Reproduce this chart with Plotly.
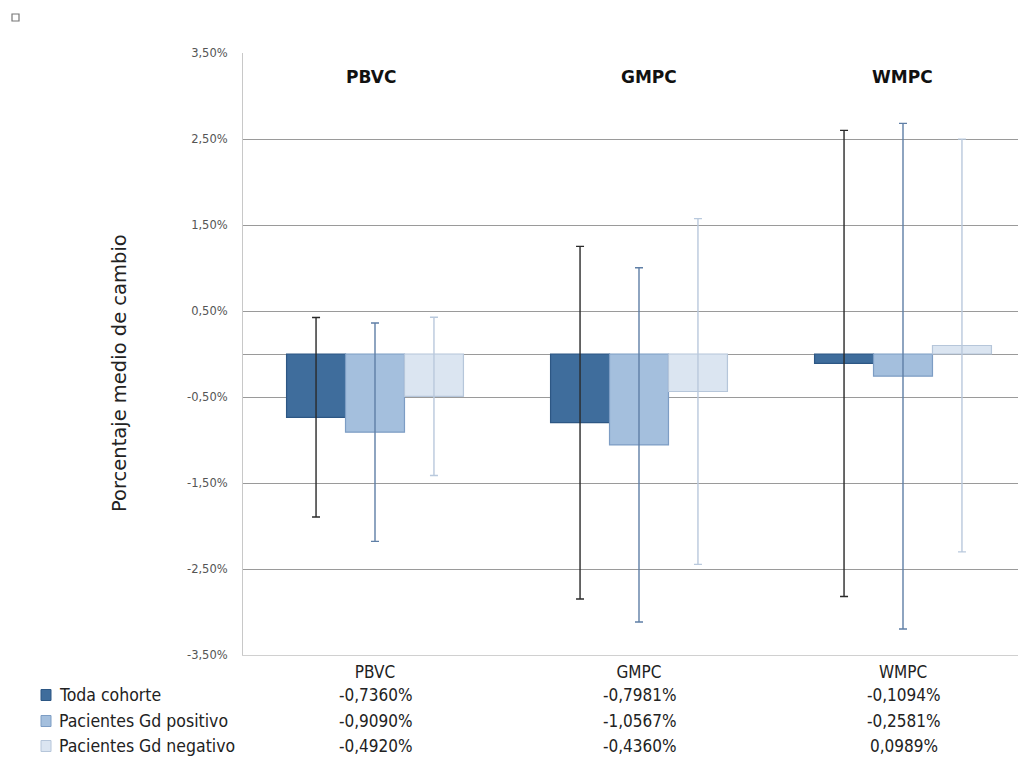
import plotly.graph_objects as go

categories = ["PBVC", "GMPC", "WMPC"]
series_names = ["Toda cohorte", "Pacientes Gd positivo", "Pacientes Gd negativo"]
toda_cohorte = [-0.7360, -0.7981, -0.1094]
gd_positivo = [-0.9090, -1.0567, -0.2581]
gd_negativo = [-0.4920, -0.4360, 0.0989]
err_toda = [1.16, 2.05, 2.71]
err_pos = [1.27, 2.06, 2.94]
err_neg = [0.92, 2.01, 2.40]
y_ticks = [3.5, 2.5, 1.5, 0.5, -0.5, -1.5, -2.5, -3.5]

values = [toda_cohorte, gd_positivo, gd_negativo]
errors = [err_toda, err_pos, err_neg]
fills = ["#3f6d9c", "#a4bfdd", "#dbe5f1"]
edges = ["#2d5784", "#7d9dc4", "#b6c6da"]
err_cols = ["#2a2a2a", "#5f7fa6", "#b9c9dd"]

COND = "DejaVu Sans Condensed, Liberation Sans Narrow, Arial Narrow, sans-serif"
REG = "DejaVu Sans, Verdana, sans-serif"

def pct(v):
    return f"{v:.4f}%".replace(".", ",")

def tick(v):
    return f"{v:.2f}%".replace(".", ",")

fig = go.Figure()
for name, vals, errs, fc, ec, erc in zip(series_names, values, errors, fills, edges, err_cols):
    fig.add_trace(go.Bar(
        x=categories, y=vals, name=name, showlegend=False,
        marker=dict(color=fc, line=dict(color=ec, width=1.2)),
        error_y=dict(type="data", array=errs, visible=True, color=erc, thickness=1.4, width=4),
    ))

# page body has an 8px margin; figure sized to fit inside the window
OFF = 8
W, H = 1010, 749
L, T, B, R = 235, 45, 102, 0
pw = W - L - R
ph = H - T - B

def px_to_paper_x(px):
    return (px - OFF - L) / pw

def px_to_paper_y(py):
    return (H - B - (py - OFF)) / ph

annotations = []
# in-plot bold category titles
title_shift = [-4, 10, -1]
for i, c in enumerate(categories):
    annotations.append(dict(x=i, y=3.225, xref="x", yref="y", text=f"<b>{c}</b>",
                            showarrow=False, xshift=title_shift[i], yanchor="middle",
                            font=dict(family=REG, size=17, color="#111")))

# y-axis title
annotations.append(dict(x=px_to_paper_x(120), y=px_to_paper_y(373), xref="paper", yref="paper",
                        text="Porcentaje medio de cambio", textangle=-90, showarrow=False,
                        xanchor="center", yanchor="middle",
                        font=dict(family=REG, size=19.5, color="#222")))

# data table
row_px = [695, 721, 746]
shapes = []
for r, (name, vals) in enumerate(zip(series_names, values)):
    yp = px_to_paper_y(row_px[r])
    annotations.append(dict(x=px_to_paper_x(57), y=yp, xref="paper", yref="paper",
                            text=name, xanchor="left", yanchor="middle", showarrow=False,
                            font=dict(family=COND, size=17.5, color="#222")))
    for i, v in enumerate(vals):
        annotations.append(dict(x=i, y=yp, xref="x", yref="paper", text=pct(v),
                                showarrow=False, xanchor="center", yanchor="middle", xshift=1,
                                font=dict(family=COND, size=17, color="#222")))
    shapes.append(dict(type="rect", xref="paper", yref="paper",
                       x0=px_to_paper_x(41), x1=px_to_paper_x(51),
                       y0=px_to_paper_y(row_px[r] + 5.5), y1=px_to_paper_y(row_px[r] - 5.5),
                       fillcolor=fills[r], line=dict(color=edges[r], width=1)))

# tiny square top-left
shapes.append(dict(type="rect", xref="paper", yref="paper",
                   x0=px_to_paper_x(12), x1=px_to_paper_x(19),
                   y0=px_to_paper_y(21), y1=px_to_paper_y(14),
                   fillcolor="white", line=dict(color="#777", width=1.2)))

fig.update_layout(
    width=W, height=H,
    margin=dict(l=L, r=R, t=T, b=B),
    paper_bgcolor="white", plot_bgcolor="white",
    barmode="group", bargap=0.33, bargroupgap=0,
    annotations=annotations, shapes=shapes,
    font=dict(family=COND),
)
fig.update_xaxes(
    range=[-0.5, -0.5 + pw / 264.0], showgrid=False, zeroline=False,
    showline=True, linecolor="#d0d0d0", linewidth=1, mirror=False,
    ticks="", ticklabelstandoff=2,
    tickfont=dict(family=COND, size=17, color="#222"),
)
fig.update_yaxes(
    range=[-3.5, 3.5], tickvals=y_ticks, ticktext=[tick(v) for v in y_ticks],
    showgrid=True, gridcolor="#9a9a9a", gridwidth=1,
    zeroline=True, zerolinecolor="#9a9a9a", zerolinewidth=1,
    showline=True, linecolor="#c8c8c8", linewidth=1,
    ticks="", ticklabelstandoff=12,
    tickfont=dict(family=REG, size=11.5, color="#555"),
)

fig.write_html("out.html")
